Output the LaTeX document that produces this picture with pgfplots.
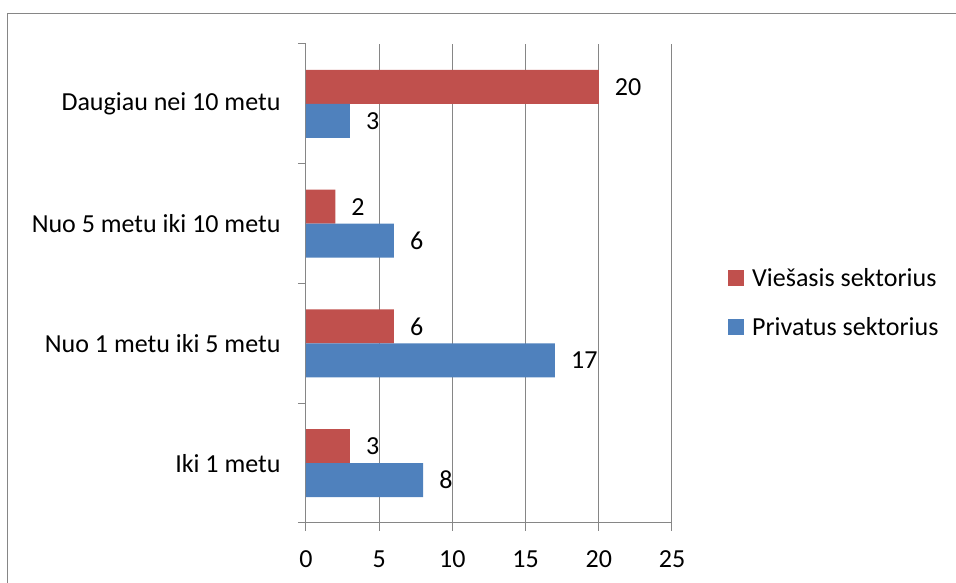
\documentclass[border=0pt]{standalone}
\usepackage{fontspec}
\setmainfont{Carlito}
\usepackage{pgfplots}
\pgfplotsset{compat=1.18}
\definecolor{cred}{HTML}{C0504D}
\definecolor{cblue}{HTML}{4F81BD}
\definecolor{cgrid}{HTML}{868686}
\newcommand\cf{\fontsize{26}{31}\selectfont}
\begin{document}
\begin{tikzpicture}
\path[use as bounding box] (-306pt,-60pt) rectangle (650pt,523pt);
\draw[cgrid, line width=1pt] (-298pt,-60pt) -- (-298pt,509pt) -- (651pt,509pt);
\begin{axis}[
  at={(0pt,0pt)}, anchor=south west,
  xbar, width=366pt, height=479pt, scale only axis,
  xmin=0, xmax=25, ymin=-0.5, ymax=3.5,
  axis x line*=bottom, axis y line*=left,
  xtick={0,5,...,25},
  ytick={-0.5,0.5,1.5,2.5,3.5}, yticklabels={},
  extra y ticks={0,1,2,3},
  extra y tick labels={Iki 1 metu, Nuo 1 metu iki 5 metu, Nuo 5 metu iki 10 metu, Daugiau nei 10 metu},
  extra y tick style={tick style={draw=none}},
  tick align=outside, major tick length=8pt,
  xmajorgrids, grid style={cgrid, line width=1pt},
  axis line style={cgrid, line width=1pt},
  tick style={cgrid, line width=1pt},
  /pgf/number format/assume math mode=true,
  ticklabel style={font=\cf, text=black},
  yticklabel style={xshift=-14pt},
  xticklabel style={yshift=-16pt},
  bar width=34pt,
  nodes near coords,
  nodes near coords style={anchor=west, font=\cf, text=black, inner sep=0pt, xshift=16pt},
  legend style={draw=none, at={(1.153,0.46)}, anchor=west, inner sep=0pt, font=\cf, row sep=25pt},
  legend cell align=left,
  legend image code/.code={\fill[#1] (0pt,-8pt) rectangle (16pt,8pt); \path (22pt,0pt);},
]
\addplot[fill=cred, draw=none, bar shift=17pt] coordinates {(3,0) (6,1) (2,2) (20,3)};
\addlegendentry{Viešasis sektorius}
\addplot[fill=cblue, draw=none, bar shift=-17pt] coordinates {(8,0) (17,1) (6,2) (3,3)};
\addlegendentry{Privatus sektorius}
\end{axis}
\end{tikzpicture}
\end{document}
